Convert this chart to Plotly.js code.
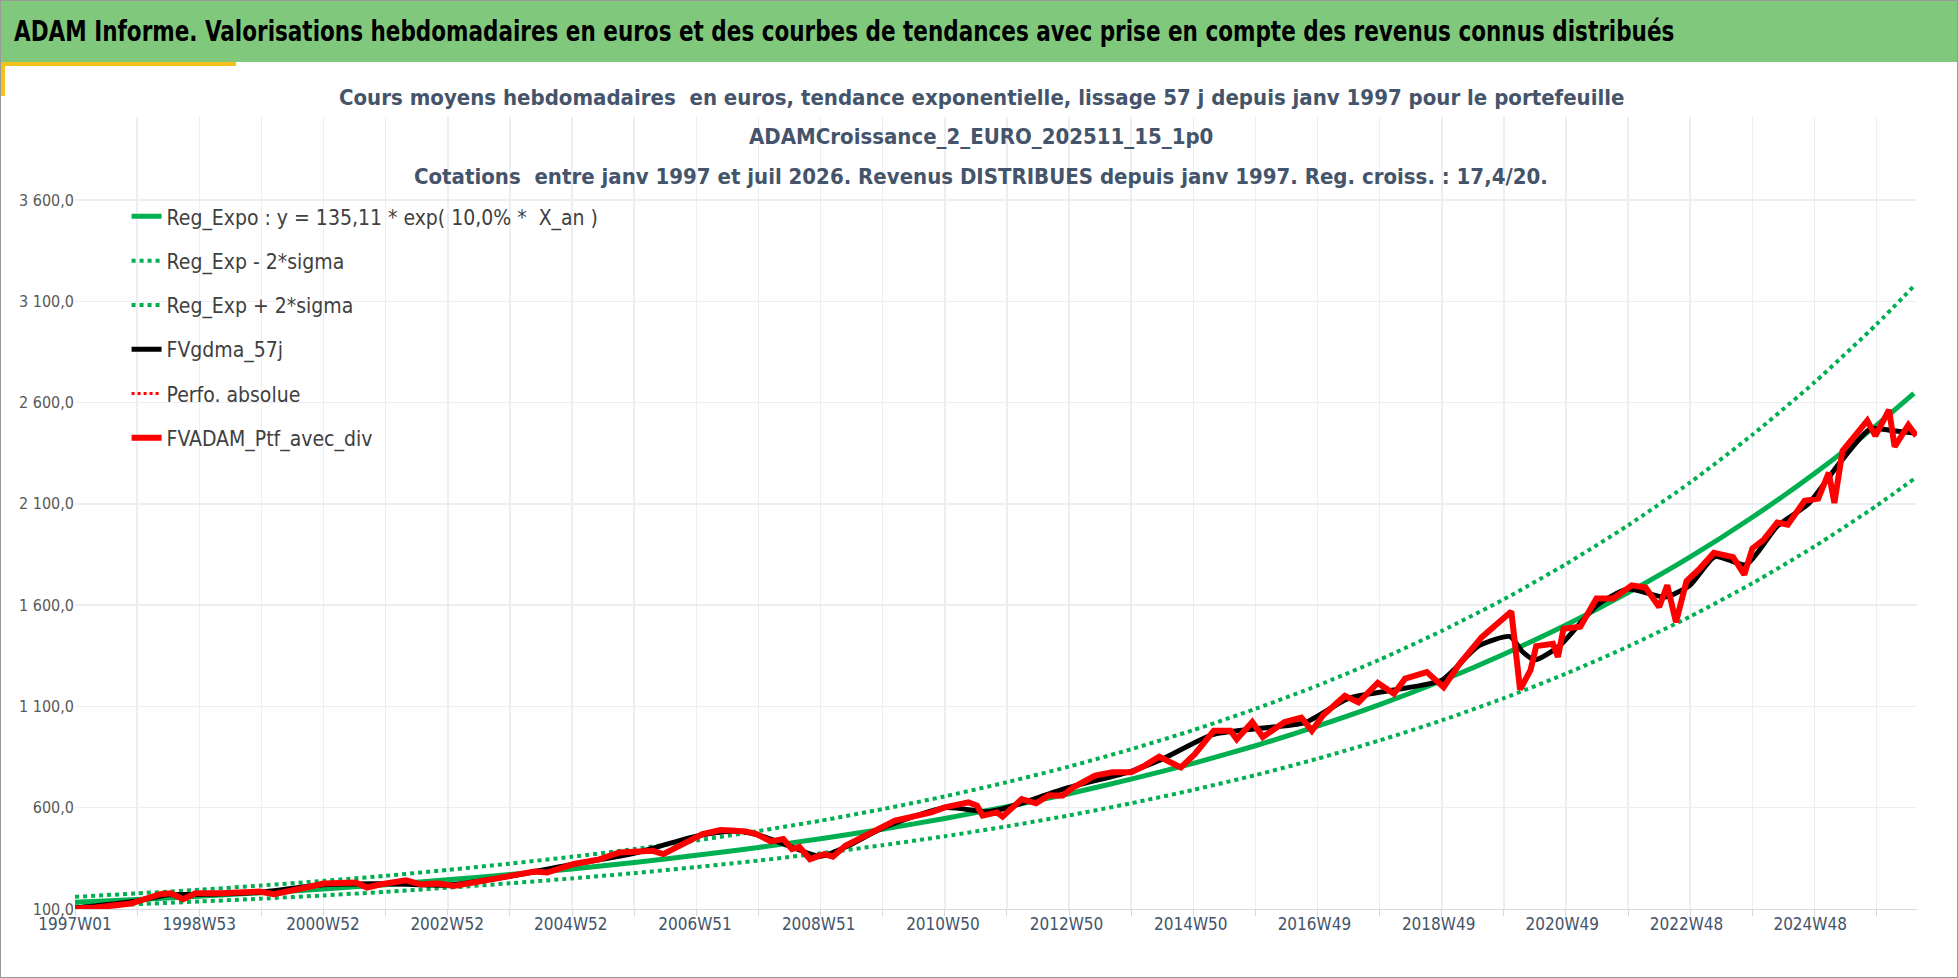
<!DOCTYPE html>
<html>
<head>
<meta charset="utf-8">
<script src="https://cdn.plot.ly/plotly-3.0.1.min.js"></script>
<style>
  body { margin: 0; background: #fff; }
  #wrap { position: relative; width: 1958px; height: 978px; overflow: hidden; }
  #head { position: absolute; left: 0; top: 0; width: 1958px; height: 62px; background: #80c87c; z-index: 2; }
  #headtxt { position: absolute; left: 14px; top: 0; line-height: 64px; white-space: nowrap; transform-origin: 0 50%;
             font-family: "DejaVu Sans Condensed", "Liberation Sans Narrow", sans-serif; font-stretch: condensed;
             font-weight: bold; font-size: 28px; color: #000; }
  #accent { position: absolute; left: 0; top: 62px; width: 236px; height: 4px; background: #f5c21b; z-index: 2; }
  #side { position: absolute; left: 0; top: 62px; width: 5px; height: 34px; background: #f5c21b; z-index: 2; }
  #frame { position: absolute; left: 0; top: 0; width: 1956px; height: 976px; border: 1px solid #999; z-index: 3; pointer-events: none; }
  #chart { position: absolute; left: 0; top: 0; width: 1958px; height: 978px; }
</style>
</head>
<body>
<div id="wrap">
  <div id="chart"></div>
  <div id="head"><span id="headtxt">ADAM Informe. Valorisations hebdomadaires en euros et des courbes de tendances avec prise en compte des revenus connus distribués</span></div>
  <div id="accent"></div>
  <div id="side"></div>
  <div id="frame"></div>
</div>
<script>
// =========================
// DATA
// =========================
const trendYears = [1997,1998,1999,2000,2001,2002,2003,2004,2005,2006,2007,2008,2009,2010,2011,2012,2013,2014,2015,2016,2017,2018,2019,2020,2021,2022,2023,2024,2025,2026,2026.6];
const trendVals = [133,147,163,180,199,220,244,270,298,330,365,404,447,494,547,605,669,741,819,906,1003,1109,1227,1358,1502,1662,1838,2034,2250,2489,2646];
const upperVals = [160,177,195,216,239,264,293,324,358,396,438,485,536,593,656,726,803,889,983,1088,1203,1331,1473,1629,1803,1994,2206,2441,2700,2987,3175];
const lowerVals = [112,124,137,151,167,185,205,227,251,277,307,339,375,415,459,508,562,622,688,761,842,932,1031,1141,1262,1396,1544,1708,1890,2091,2223];

const ptfYears = [1996.97,1997.33,1997.9,1998.37,1998.54,1998.74,1998.94,1999.34,1999.97,2000.2,2000.72,2001.0,2001.52,2001.7,2001.93,2002.33,2002.56,2002.85,2003.1,2003.65,2004.05,2004.4,2004.6,2005.03,2005.44,
  2005.76,2006.3,2006.47,2007.1,2007.39,2007.56,2007.8,2007.97,2008.2,2008.4,2008.54,2008.66,2008.83,2009.06,2009.2,2009.4,2009.8,2010.03,2010.2,2010.43,2010.78,2011.0,2011.38,2011.52,2011.61,2011.84,2011.93,
  2012.24,2012.47,2012.67,2012.9,2013.07,2013.42,2013.7,2014.0,2014.22,2014.45,2014.8,2015.02,2015.33,2015.6,2015.7,2015.95,2016.12,2016.47,2016.74,2016.91,2017.09,2017.44,2017.66,2017.97,2018.23,2018.41,
  2018.76,2019.03,2019.29,2019.64,2020.12,2020.26,2020.43,2020.52,2020.79,2020.87,2020.96,2021.23,2021.49,2021.76,2022.06,2022.28,2022.5,2022.63,2022.77,2022.94,2023.16,2023.38,2023.69,2023.87,2024.0,
  2024.18,2024.4,2024.57,2024.84,2025.06,2025.23,2025.32,2025.45,2025.67,2025.85,2025.98,2026.2,2026.29,2026.51,2026.64];
const ptfVals = [102,107,127,173,178,148,178,178,186,173,206,226,231,206,222,242,222,226,214,242,264,285,280,322,345,
  379,387,371,470,490,487,483,470,434,445,396,407,346,371,358,412,473,503,536,552,577,602,627,610,561,577,556,
  643,622,660,660,701,759,775,775,808,852,799,863,980,980,938,1023,949,1023,1045,980,1056,1152,1120,1216,1163,1237,
  1270,1195,1312,1441,1569,1184,1280,1398,1409,1345,1484,1494,1633,1633,1698,1687,1591,1698,1516,1719,1783,1858,1837,1751,1880,
  1922,2008,1997,2115,2126,2254,2104,2361,2447,2511,2436,2564,2382,2489,2436];

const smoothYears = [1997,1998,1998.5,1999,2000,2001,2002,2003,2004,2005,2006,2007,2007.6,2008,2008.5,2009,2009.5,2010,2011,2011.7,2012,2013,2014,2014.5,2015.3,2016,2016.8,2017.5,2018.2,2019,2019.6,2020.1,2020.3,2020.5,2020.9,2021.5,2022,2022.6,2023,2023.4,2023.9,2024.4,2024.9,2025.4,2025.9,2026.3,2026.6];
const smoothVals = [105,140,170,172,183,220,225,218,262,320,375,460,485,465,410,360,420,500,600,580,600,700,780,840,960,990,1020,1140,1180,1230,1400,1445,1370,1330,1400,1600,1680,1640,1700,1840,1800,1990,2100,2300,2470,2460,2450];

const xTickLabels = ["1997W01","1998W53","2000W52","2002W52","2004W52","2006W51","2008W51","2010W50","2012W50","2014W50","2016W49","2018W49","2020W49","2022W48","2024W48"];
const xTickPos = [1997.0,1999.0,2000.99,2002.99,2004.98,2006.98,2008.97,2010.97,2012.96,2014.96,2016.95,2018.95,2020.94,2022.94,2024.93];
const yTickVals = [100,600,1100,1600,2100,2600,3100,3600];
const yTickText = ["100,0","600,0","1 100,0","1 600,0","2 100,0","2 600,0","3 100,0","3 600,0"];

// =========================
// TRACES
// =========================
const GREEN = "#00b050";
const font = "DejaVu Sans Condensed, Liberation Sans Narrow, sans-serif";

function line(name, x, y, color, width, dash, group) {
    return { x: x, y: y, name: name, type: "scatter", mode: "lines", legendgroup: group,
             line: { color: color, width: width, dash: dash, shape: "spline", smoothing: 0.6 } };
}

const traces = [
    line("Reg_Expo : y = 135,11 * exp( 10,0% *  X_an )", trendYears, trendVals, GREEN, 5, "solid", "a"),
    line("Reg_Exp - 2*sigma", trendYears, lowerVals, GREEN, 4, "dot", "b"),
    line("Reg_Exp + 2*sigma", trendYears, upperVals, GREEN, 4, "dot", "c"),
    line("FVgdma_57j", smoothYears, smoothVals, "#000000", 5, "solid", "d"),
    line("Perfo. absolue", ptfYears, ptfVals, "#ff0000", 3, "dot", "e"),
    line("FVADAM_Ptf_avec_div", ptfYears, ptfVals, "#ff0000", 6, "solid", "f")
];
traces[4].line.shape = "linear";
traces[5].line.shape = "linear";

// =========================
// LAYOUT
// =========================
const titleColor = "#44546a";
const gridCol = "#eceef2";
const layout = {
    width: 1958, height: 978,
    margin: { l: 75, r: 41, t: 117, b: 69 },
    paper_bgcolor: "#ffffff", plot_bgcolor: "#ffffff",
    font: { family: font, color: "#595959", size: 16 },
    showlegend: true,
    legend: { x: 0.028, y: 0.9, xanchor: "left", yanchor: "top", bgcolor: "rgba(0,0,0,0)",
              font: { family: font, size: 21, color: "#404040" }, tracegroupgap: 14 },
    xaxis: { range: [1997, 2026.65], tickvals: xTickPos, ticktext: xTickLabels, showgrid: false,
             zeroline: false, showline: true, linecolor: "#d9d9d9",
             ticks: "", 
             minor: { tick0: 1997, dtick: 1, showgrid: true, gridcolor: gridCol, gridwidth: 1.5, ticks: "outside", ticklen: 6, tickcolor: "#d9d9d9" },
             tickfont: { family: font, size: 17, color: "#44546a" } },
    yaxis: { range: [100, 4010], tickvals: yTickVals, ticktext: yTickText, showgrid: true,
             gridcolor: gridCol, gridwidth: 1.5, zeroline: false, showline: false,
             tickfont: { family: font, size: 16, color: "#595959" } },
    annotations: [
        { text: "<b>Cours moyens hebdomadaires  en euros, tendance exponentielle, lissage 57 j depuis janv 1997 pour le portefeuille</b>",
          xref: "paper", yref: "paper", x: 0.492, y: 1.024, yanchor: "middle", showarrow: false, font: { family: font, size: 22, color: titleColor } },
        { text: "<b>ADAMCroissance_2_EURO_202511_15_1p0</b>",
          xref: "paper", yref: "paper", x: 0.492, y: 0.976, yanchor: "middle", showarrow: false, font: { family: font, size: 22, color: titleColor } },
        { text: "<b>Cotations  entre janv 1997 et juil 2026. Revenus DISTRIBUES depuis janv 1997. Reg. croiss. : 17,4/20.</b>",
          xref: "paper", yref: "paper", x: 0.492, y: 0.925, yanchor: "middle", showarrow: false, font: { family: font, size: 22, color: titleColor } }
    ]
};

Plotly.newPlot("chart", traces, layout, { displayModeBar: false, staticPlot: true });

// fit the header text to the width the reference uses
const ht = document.getElementById("headtxt");
const target = 1660;
ht.style.transform = "scaleX(" + (target / ht.offsetWidth) + ")";
</script>
</body>
</html>
